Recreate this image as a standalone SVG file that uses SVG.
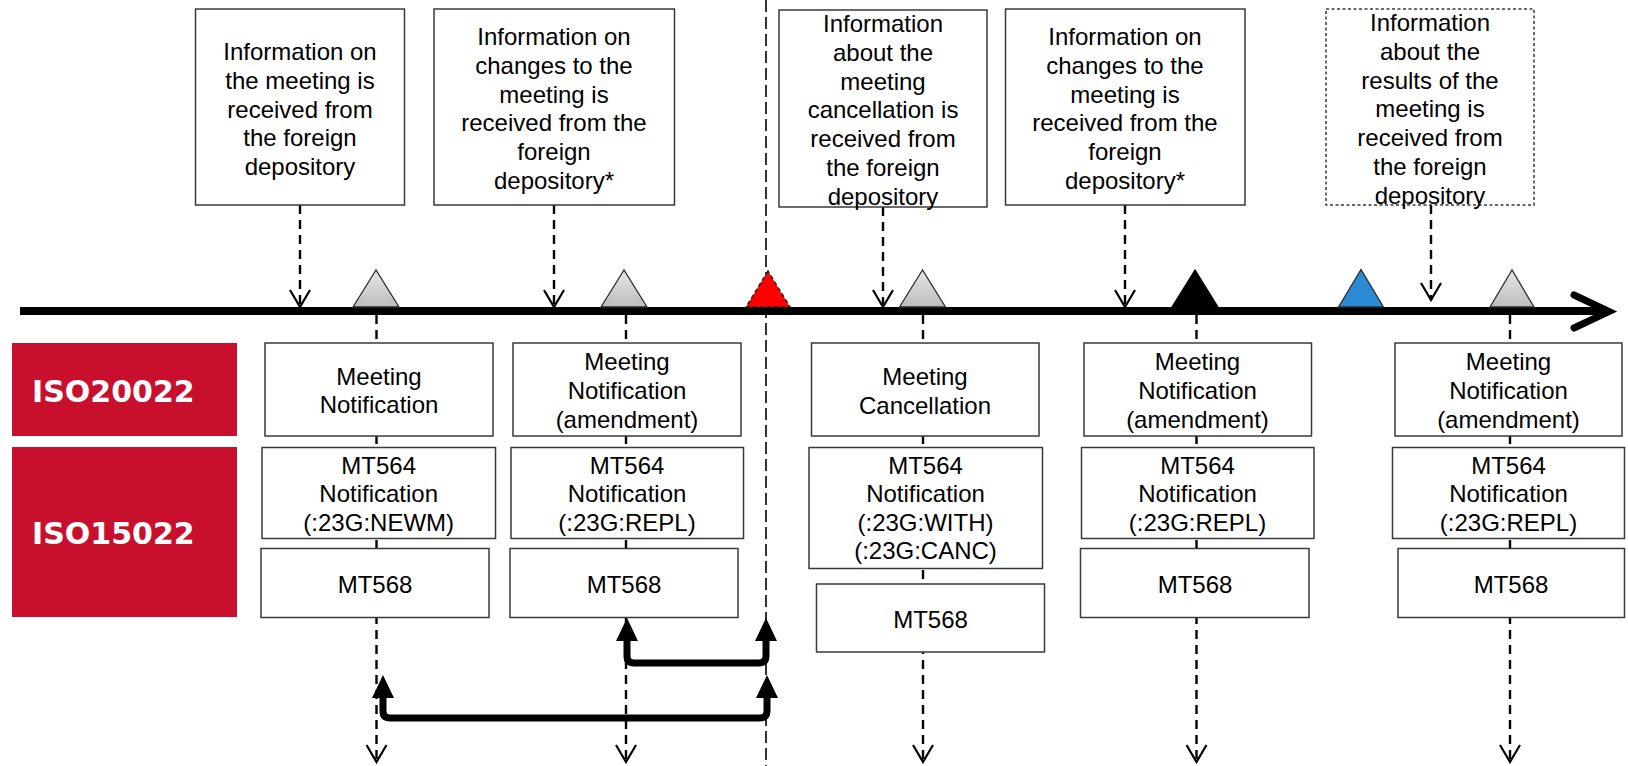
<svg xmlns="http://www.w3.org/2000/svg" width="1628" height="766" viewBox="0 0 1628 766">
<style>
.box{fill:#fff;stroke:#3a3a3a;stroke-width:1.5}
.dbox{fill:#fff;stroke:#3a3a3a;stroke-width:1.5;stroke-dasharray:3,2.5}
.t{font-family:"Liberation Sans",Arial,sans-serif;font-size:24px;fill:#000;text-anchor:middle}
.lbl{font-family:"DejaVu Sans",Verdana,sans-serif;font-weight:bold;font-size:30px;fill:#fff}
.red{fill:#C8102E}
.dash{fill:none;stroke:#000;stroke-width:2.4;stroke-dasharray:9,6}
.thick{fill:none;stroke:#000;stroke-width:7;stroke-linejoin:round}
.tri{stroke:#2b2b2b;stroke-width:1.3}
</style>
<defs>
<marker id="open" markerUnits="userSpaceOnUse" viewBox="-1 -11 20 22" markerWidth="20" markerHeight="22" refX="17" refY="0" orient="auto">
<path d="M0,-10 L17,0 L0,10" fill="none" stroke="#000" stroke-width="2.2"/>
</marker>
<marker id="solid" markerUnits="userSpaceOnUse" viewBox="0 -12 24 24" markerWidth="24" markerHeight="24" refX="2" refY="0" orient="auto-start-reverse">
<path d="M0,-11 L23,0 L0,11 z" fill="#000"/>
</marker>
<linearGradient id="gray" x1="0" y1="0" x2="0" y2="1">
<stop offset="0" stop-color="#e6e6e6"/>
<stop offset="1" stop-color="#bdbdbd"/>
</linearGradient>
</defs>

<g id="labels">
<g id="iso20022"><rect class="red" x="12" y="343" width="225" height="93"/><text class="lbl" x="32" y="401.5">ISO20022</text></g>
<g id="iso15022"><rect class="red" x="12" y="447" width="225" height="170"/><text class="lbl" x="32" y="544">ISO15022</text></g>
</g>

<g id="connectors">
<line x1="766" y1="0" x2="766" y2="766" stroke="#000" stroke-width="1.6" stroke-dasharray="12,5"/>
<line class="dash" x1="300" y1="205" x2="300" y2="307" marker-end="url(#open)"/>
<line class="dash" x1="554" y1="205" x2="554" y2="307" marker-end="url(#open)"/>
<line class="dash" x1="883" y1="207" x2="883" y2="307" marker-end="url(#open)"/>
<line class="dash" x1="1125" y1="205" x2="1125" y2="307" marker-end="url(#open)"/>
<line class="dash" x1="1431" y1="205" x2="1431" y2="300" marker-end="url(#open)"/>
<line class="dash" x1="376.5" y1="315" x2="376.5" y2="762" marker-end="url(#open)"/>
<line class="dash" x1="626" y1="315" x2="626" y2="762" marker-end="url(#open)"/>
<line class="dash" x1="923" y1="315" x2="923" y2="762" marker-end="url(#open)"/>
<line class="dash" x1="1196.5" y1="315" x2="1196.5" y2="762" marker-end="url(#open)"/>
<line class="dash" x1="1510" y1="315" x2="1510" y2="762" marker-end="url(#open)"/>
</g>

<g id="timeline">
<line x1="20" y1="311" x2="1604" y2="311" stroke="#000" stroke-width="8"/>
<polyline points="1574,295 1609,311.5 1574,328" fill="none" stroke="#000" stroke-width="7" stroke-linecap="round" stroke-linejoin="miter"/>
<polygon class="tri" points="376,270 353,307 399,307" fill="url(#gray)"/>
<polygon class="tri" points="624,270 601,307 647,307" fill="url(#gray)"/>
<polygon points="768,271 746,307 790,307" fill="#ff0000" stroke="#222" stroke-width="1.5" stroke-dasharray="4,3"/>
<polygon class="tri" points="922.5,270 899.5,307 945.5,307" fill="url(#gray)"/>
<polygon points="1195,270 1172,307 1218,307" fill="#000" stroke="#000" stroke-width="1.3"/>
<polygon class="tri" points="1361,269.5 1338.5,307 1383.5,307" fill="#2a8ad4"/>
<polygon class="tri" points="1512,270 1490,307 1534,307" fill="url(#gray)"/>
</g>

<g id="info1"><rect class="box" x="195.5" y="9" width="209" height="196"/>
<text class="t"><tspan x="300" y="60">Information on</tspan><tspan x="300" y="88.8">the meeting is</tspan><tspan x="300" y="117.6">received from</tspan><tspan x="300" y="146.4">the foreign</tspan><tspan x="300" y="175.2">depository</tspan></text></g>
<g id="info2"><rect class="box" x="434" y="9" width="240.5" height="196"/>
<text class="t"><tspan x="554" y="45">Information on</tspan><tspan x="554" y="73.8">changes to the</tspan><tspan x="554" y="102.6">meeting is</tspan><tspan x="554" y="131.4">received from the</tspan><tspan x="554" y="160.2">foreign</tspan><tspan x="554" y="189">depository*</tspan></text></g>
<g id="info3"><rect class="box" x="779" y="10" width="208" height="197"/>
<text class="t"><tspan x="883" y="32">Information</tspan><tspan x="883" y="60.8">about the</tspan><tspan x="883" y="89.6">meeting</tspan><tspan x="883" y="118.4">cancellation is</tspan><tspan x="883" y="147.2">received from</tspan><tspan x="883" y="176">the foreign</tspan><tspan x="883" y="204.8">depository</tspan></text></g>
<g id="info4"><rect class="box" x="1005.5" y="9" width="239.5" height="196"/>
<text class="t"><tspan x="1125" y="45">Information on</tspan><tspan x="1125" y="73.8">changes to the</tspan><tspan x="1125" y="102.6">meeting is</tspan><tspan x="1125" y="131.4">received from the</tspan><tspan x="1125" y="160.2">foreign</tspan><tspan x="1125" y="189">depository*</tspan></text></g>
<g id="info5"><rect class="dbox" x="1326" y="9" width="208" height="196"/>
<text class="t"><tspan x="1430" y="31">Information</tspan><tspan x="1430" y="59.8">about the</tspan><tspan x="1430" y="88.6">results of the</tspan><tspan x="1430" y="117.4">meeting is</tspan><tspan x="1430" y="146.2">received from</tspan><tspan x="1430" y="175">the foreign</tspan><tspan x="1430" y="203.8">depository</tspan></text></g>

<g id="col1">
<g id="c1-mx"><rect class="box" x="265" y="343" width="228" height="93"/><text class="t"><tspan x="379" y="384.5">Meeting</tspan><tspan x="379" y="413">Notification</tspan></text></g>
<g id="c1-564"><rect class="box" x="262" y="447.5" width="233.5" height="91"/><text class="t"><tspan x="378.7" y="473.5">MT564</tspan><tspan x="378.7" y="502">Notification</tspan><tspan x="378.7" y="530.5">(:23G:NEWM)</tspan></text></g>
<g id="c1-568"><rect class="box" x="261" y="548.5" width="228" height="69"/><text class="t" x="375" y="593">MT568</text></g>
</g>
<g id="col2">
<g id="c2-mx"><rect class="box" x="513" y="343" width="228" height="93"/><text class="t"><tspan x="627" y="370">Meeting</tspan><tspan x="627" y="399">Notification</tspan><tspan x="627" y="428">(amendment)</tspan></text></g>
<g id="c2-564"><rect class="box" x="511" y="447.5" width="232.5" height="91"/><text class="t"><tspan x="627" y="473.5">MT564</tspan><tspan x="627" y="502">Notification</tspan><tspan x="627" y="530.5">(:23G:REPL)</tspan></text></g>
<g id="c2-568"><rect class="box" x="510" y="548.5" width="228" height="69"/><text class="t" x="624" y="593">MT568</text></g>
</g>
<g id="col3">
<g id="c3-mx"><rect class="box" x="811.5" y="343" width="227.5" height="93"/><text class="t"><tspan x="925" y="384.5">Meeting</tspan><tspan x="925" y="413.5">Cancellation</tspan></text></g>
<g id="c3-564"><rect class="box" x="809" y="447.5" width="233.5" height="121"/><text class="t"><tspan x="925.5" y="473.5">MT564</tspan><tspan x="925.5" y="502">Notification</tspan><tspan x="925.5" y="530.5">(:23G:WITH)</tspan><tspan x="925.5" y="559">(:23G:CANC)</tspan></text></g>
<g id="c3-568"><rect class="box" x="816.5" y="584" width="228" height="68"/><text class="t" x="930.5" y="628">MT568</text></g>
</g>
<g id="col4">
<g id="c4-mx"><rect class="box" x="1084" y="343" width="227.5" height="93"/><text class="t"><tspan x="1197.5" y="370">Meeting</tspan><tspan x="1197.5" y="399">Notification</tspan><tspan x="1197.5" y="428">(amendment)</tspan></text></g>
<g id="c4-564"><rect class="box" x="1081.5" y="447.5" width="232.5" height="91"/><text class="t"><tspan x="1197.5" y="473.5">MT564</tspan><tspan x="1197.5" y="502">Notification</tspan><tspan x="1197.5" y="530.5">(:23G:REPL)</tspan></text></g>
<g id="c4-568"><rect class="box" x="1080.5" y="548.5" width="228.5" height="69"/><text class="t" x="1195" y="593">MT568</text></g>
</g>
<g id="col5">
<g id="c5-mx"><rect class="box" x="1395" y="343" width="227" height="93"/><text class="t"><tspan x="1508.5" y="370">Meeting</tspan><tspan x="1508.5" y="399">Notification</tspan><tspan x="1508.5" y="428">(amendment)</tspan></text></g>
<g id="c5-564"><rect class="box" x="1392.5" y="447.5" width="232" height="91"/><text class="t"><tspan x="1508.5" y="473.5">MT564</tspan><tspan x="1508.5" y="502">Notification</tspan><tspan x="1508.5" y="530.5">(:23G:REPL)</tspan></text></g>
<g id="c5-568"><rect class="box" x="1398" y="548.5" width="226.5" height="69"/><text class="t" x="1511" y="593">MT568</text></g>
</g>

<g id="links">
<path class="thick" d="M627,639 L627,656 Q627,663 634,663 L759,663 Q766,663 766,656 L766,639" marker-start="url(#solid)" marker-end="url(#solid)"/>
<path class="thick" d="M383,696 L383,711 Q383,718 390,718 L760,718 Q767,718 767,711 L767,696" marker-start="url(#solid)" marker-end="url(#solid)"/>
</g>
</svg>
